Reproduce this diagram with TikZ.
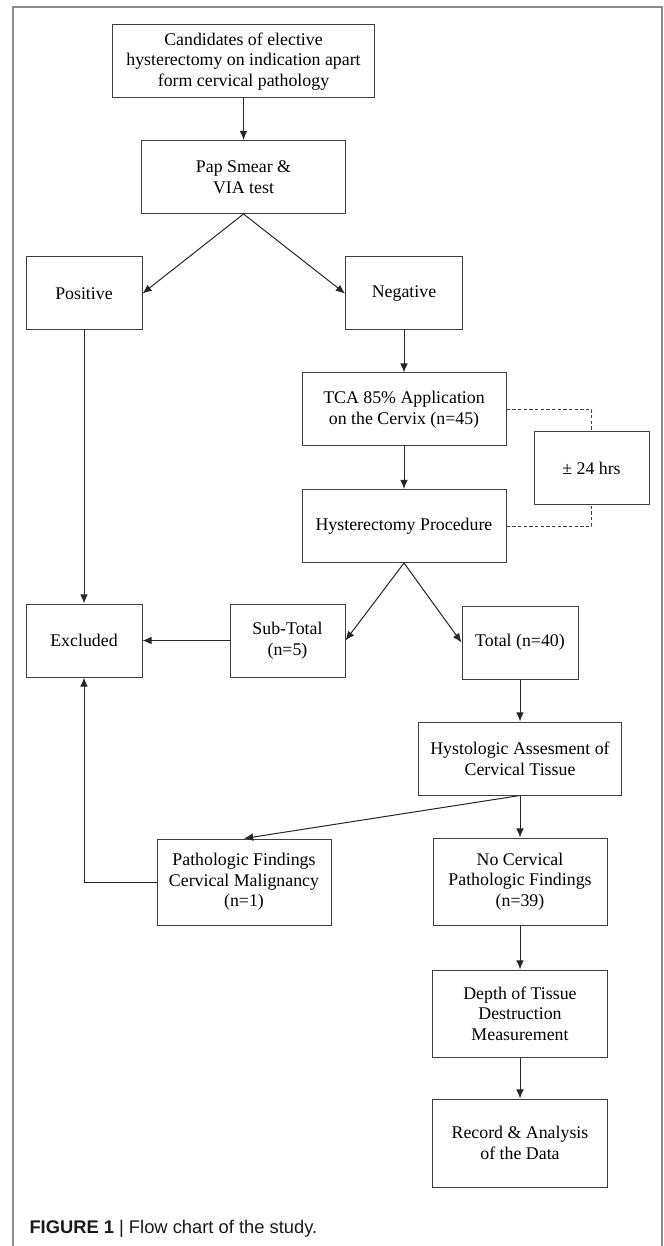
\documentclass[tikz,border=0pt]{standalone}
\usepackage{fontspec}
\setmainfont{Liberation Serif}
\setsansfont{Liberation Sans}
\usetikzlibrary{arrows.meta}

\begin{document}
\begin{tikzpicture}[x=0.6pt,y=-0.6pt,line width=0.6pt,>={Latex[length=5.5pt,width=4.6pt]},
    box/.style={draw=black!75,align=center,inner sep=0pt,minimum height=43.8pt,font=\fontsize{10.7}{12.4}\selectfont},
    link/.style={draw=black!85,->},
    wait/.style={draw=black!75,dash pattern=on 2pt off 1.4pt}]
  \useasboundingbox (0,0) rectangle (663,1246);
  \draw[black!45,line width=0.8pt] (13,1246) -- (13,7) -- (662,7) -- (662,1246);

  \node[box,minimum width=157.2pt] (Cand) at (243.5,61.5) {Candidates of elective\\hysterectomy on indication apart\\form cervical pathology};
  \node[box,minimum width=122.4pt] (Pap) at (243.5,177) {Pap Smear \&\\VIA test};
  \node[box,minimum width=69.6pt] (Pos) at (84,293.5) {Positive};
  \node[box,minimum width=70.2pt] (Neg) at (404,293.5) {Negative};
  \node[box,minimum width=122.4pt] (Tca) at (404,409.5) {TCA 85\% Application\\on the Cervix (n=45)};
  \node[box,minimum width=122.4pt] (Hyst) at (404,526) {Hysterectomy Procedure};
  \node[box,minimum width=69pt] (Hrs) at (591.5,468) {± 24 hrs};
  \node[box,minimum width=69.6pt] (Excl) at (84,640.5) {Excluded};
  \node[box,minimum width=69pt] (Sub) at (287.5,640.5) {Sub-Total\\(n=5)};
  \node[box,minimum width=69.6pt] (Tot) at (520,642.5) {Total (n=40)};
  \node[box,minimum width=121.8pt] (Hist) at (520,758.5) {Hystologic Assesment of\\Cervical Tissue};
  \node[box,minimum width=104.4pt,minimum height=51.6pt] (Path) at (244,882) {Pathologic Findings\\Cervical Malignancy\\(n=1)};
  \node[box,minimum width=104.4pt,minimum height=52.2pt] (NoCerv) at (520,881.5) {No Cervical\\Pathologic Findings\\(n=39)};
  \node[box,minimum width=105pt,minimum height=52.2pt] (Depth) at (520,1013.5) {Depth of Tissue\\Destruction\\Measurement};
  \node[box,minimum width=105pt,minimum height=52.8pt] (Rec) at (520,1143) {Record \& Analysis\\of the Data};

  \draw[link] (Cand) -- (Pap);
  \draw[link] (Pap.south) -- (Pos.east);
  \draw[link] (Pap.south) -- (Neg.west);
  \draw[link] (Pos) -- (Excl);
  \draw[link] (Neg) -- (Tca);
  \draw[link] (Tca) -- (Hyst);
  \draw[wait] (Tca.east) -| (Hrs.north);
  \draw[wait] (Hyst.east) -| (Hrs.south);
  \draw[link] (Hyst.south) -- (Sub.east);
  \draw[link] (Hyst.south) -- (Tot.west);
  \draw[link] (Sub) -- (Excl);
  \draw[link] (Tot) -- (Hist);
  \draw[link] (Hist.south) -- (Path.north);
  \draw[link] (Hist.south) -- (NoCerv.north);
  \draw[link] (Path.west) -| (Excl.south);
  \draw[link] (NoCerv) -- (Depth);
  \draw[link] (Depth) -- (Rec);

  \node[anchor=west,inner sep=0pt,text=black!90,font=\sffamily\fontsize{11}{13}\selectfont] (Cap) at (29,1229) {\textbf{FIGURE 1} | Flow chart of the study.};
\end{tikzpicture}
\end{document}
